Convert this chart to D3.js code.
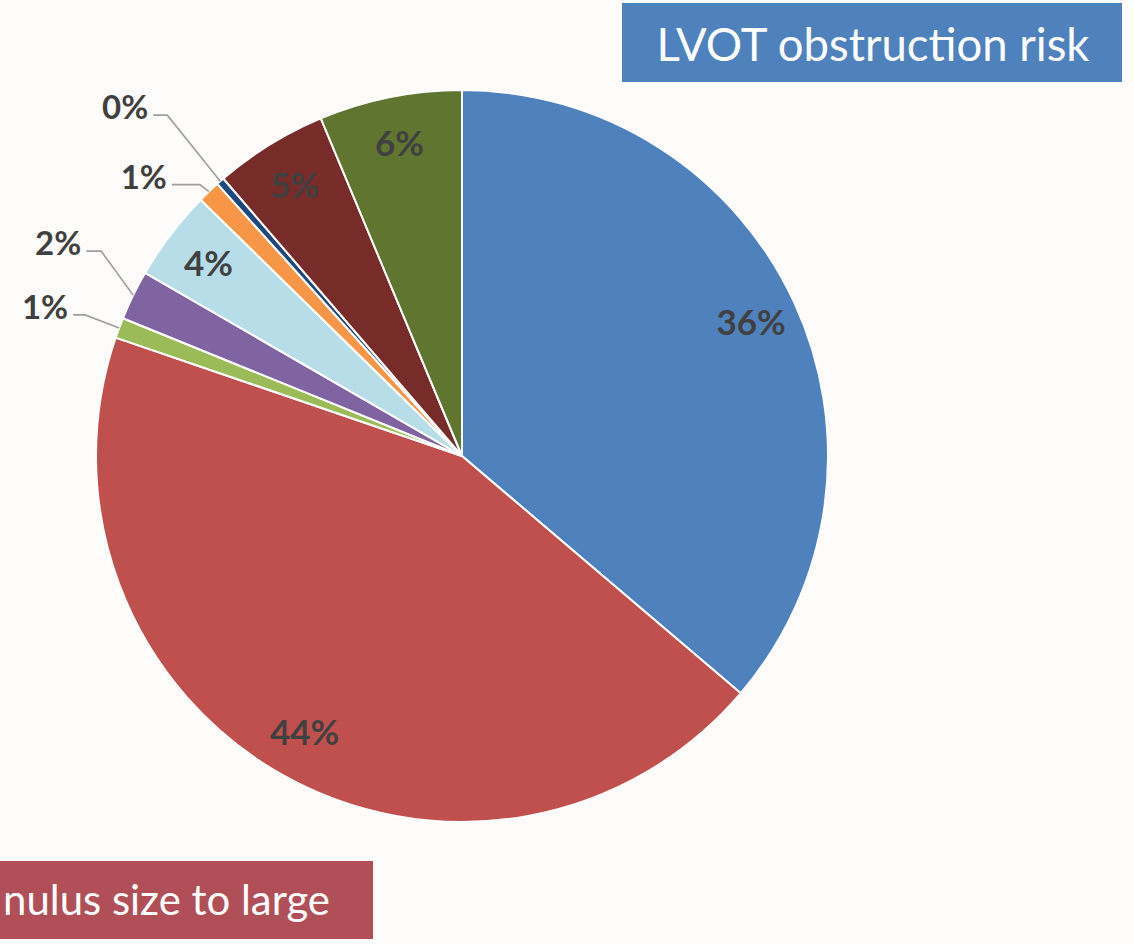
<!DOCTYPE html>
<html>
<head>
<meta charset="utf-8">
<title>LVOT obstruction risk</title>
<script src="https://cdn.jsdelivr.net/npm/d3@7"></script>
<style>
  html, body { margin: 0; padding: 0; background: #fdfcfa; }
  svg { display: block; }
</style>
</head>
<body>
<div id="chart"></div>
<script>
/*jslint browser:true, devel:true */
/*global d3 */

// slices, clockwise from 12 o'clock
var categories = ["s1", "s2", "s3", "s4", "s5", "s6", "s7", "s8", "s9"];
var shares = [36.2, 44.0, 0.9, 2.2, 4.0, 1.0, 0.35, 5.0, 6.3];
var sliceColors = ["#4f81bd", "#c0504d", "#9bbb59", "#8064a2", "#b7dde8", "#f79646", "#1f497d", "#772c2a", "#5f7530"];
var titleText = "LVOT obstruction risk";
var footText = "nulus size to large";

(function () {
  "use strict";

  var width = 1134, height = 944;
  var cx = 462, cy = 456, radius = 366;

  // labels drawn outside with a leader line: rim -> elbow -> short horizontal run
  var leaderLayout = {
    2: {dx: -34, dy: -13, run: 12},
    3: {dx: -32, dy: -44, run: 15},
    5: {dx: -9, dy: -7, run: 28},
    6: {dx: -53, dy: -66, run: 14}
  };

  var svg = d3.select("#chart").append("svg")
    .attr("width", width)
    .attr("height", height);

  svg.append("rect")
    .attr("width", width)
    .attr("height", height)
    .attr("fill", "#fdfcfa");

  var data = categories.map(function (c, i) {
    return {key: c, value: shares[i], color: sliceColors[i]};
  });
  var total = d3.sum(data, function (d) { return d.value; });
  var fmt = d3.format(".0%");

  var pie = d3.pie()
    .sort(null)
    .value(function (d) { return d.value; });
  var arcs = pie(data);

  var arc = d3.arc().innerRadius(0).outerRadius(radius);
  var labelArc = d3.arc().innerRadius(radius * 0.87).outerRadius(radius * 0.87);
  var rimArc = d3.arc().innerRadius(radius).outerRadius(radius);

  var g = svg.append("g").attr("transform", "translate(" + cx + "," + cy + ")");

  g.selectAll("path.slice")
    .data(arcs)
    .enter().append("path")
    .attr("class", "slice")
    .attr("d", arc)
    .attr("fill", function (d) { return d.data.color; })
    .attr("stroke", "#ffffff")
    .attr("stroke-width", 2)
    .attr("stroke-linejoin", "round");

  var labelFont = "Lato, 'Open Sans', sans-serif";

  arcs.forEach(function (d, i) {
    var txt = fmt(d.data.value / total);
    var lay = leaderLayout[i];
    if (!lay) {
      var c = labelArc.centroid(d);
      g.append("text")
        .attr("x", c[0])
        .attr("y", c[1])
        .attr("dy", "0.36em")
        .attr("text-anchor", "middle")
        .attr("font-family", labelFont)
        .attr("font-weight", 700)
        .attr("font-size", 35)
        .attr("fill", "#404040")
        .text(txt);
      return;
    }
    var rim = rimArc.centroid(d);
    var elbow = [rim[0] + lay.dx, rim[1] + lay.dy];
    var start = [elbow[0] - lay.run, elbow[1]];
    g.append("polyline")
      .attr("points", [start, elbow, rim].map(function (p) { return p.join(","); }).join(" "))
      .attr("fill", "none")
      .attr("stroke", "#9f9f9f")
      .attr("stroke-width", 1.6);
    g.append("text")
      .attr("x", start[0] - 5)
      .attr("y", start[1] - 8)
      .attr("dy", "0.36em")
      .attr("text-anchor", "end")
      .attr("font-family", labelFont)
      .attr("font-weight", 700)
      .attr("font-size", 33)
      .attr("fill", "#404040")
      .text(txt);
  });

  // title box, top right
  svg.append("rect")
    .attr("x", 622).attr("y", 3)
    .attr("width", 500).attr("height", 79)
    .attr("fill", "#4f82bd");

  var title = svg.append("text")
    .attr("x", 873).attr("y", 61)
    .attr("text-anchor", "middle")
    .attr("font-family", "Lato, sans-serif")
    .attr("font-size", 44)
    .attr("fill", "#ffffff")
    .text(titleText);
  var tw = title.node().getComputedTextLength();
  title.attr("font-size", 44 * 433 / tw);

  // bottom-left box; text kept just inside the page edge
  svg.append("rect")
    .attr("x", 0).attr("y", 861)
    .attr("width", 373).attr("height", 78)
    .attr("fill", "#b04f58");

  var foot = svg.append("text")
    .attr("x", 330).attr("y", 915)
    .attr("text-anchor", "end")
    .attr("font-family", "Lato, sans-serif")
    .attr("font-size", 44)
    .attr("fill", "#ffffff")
    .text(footText);
  var fw = foot.node().getComputedTextLength();
  foot.attr("font-size", 44 * 327 / fw);
})();
</script>
</body>
</html>
